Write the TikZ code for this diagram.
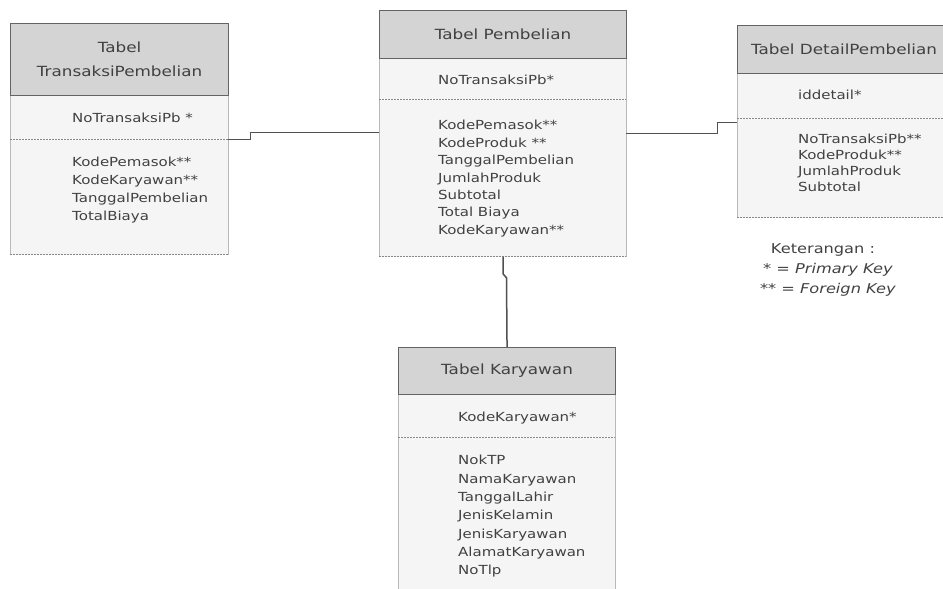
\documentclass[tikz,border=0pt]{standalone}
\usepackage{fontspec}
\setmainfont[FakeStretch=1.2]{DejaVu Sans}
\usetikzlibrary{calc}

\definecolor{hdrfill}{RGB}{212,212,212}
\definecolor{bodyfill}{RGB}{245,245,245}
\definecolor{hdrline}{RGB}{100,100,100}
\definecolor{sideline}{RGB}{185,185,185}
\definecolor{dashline}{RGB}{135,135,135}
\definecolor{txtc}{RGB}{65,65,65}
\definecolor{connc}{RGB}{80,80,80}

\begin{document}
\begin{tikzpicture}[x=1pt,y=-1pt,
  hdr/.style={draw=hdrline, fill=hdrfill, line width=1.1pt, inner sep=0pt,
              anchor=north west, align=center, text=txtc,
              font=\fontsize{14}{24}\selectfont},
  sect/.style={fill=bodyfill, inner sep=0pt, anchor=north west},
  side/.style={draw=sideline, line width=1pt},
  sepline/.style={draw=dashline, line width=1.1pt, dash pattern=on 2pt off 1pt},
  fieldtxt/.style={inner sep=0pt, anchor=base west, text=txtc,
                   font=\fontsize{12.5}{14}\selectfont},
  legtxt/.style={inner sep=0pt, text=txtc, font=\fontsize{13.5}{16}\selectfont},
  conn/.style={draw=connc, line width=1.5pt}]

\useasboundingbox (0,0) rectangle (943,589);
\clip (0,0) rectangle (943,589);

% ---------- Tabel TransaksiPembelian ----------
\node[sect, minimum width=218pt, minimum height=44pt] (k1) at (10,95) {};
\node[sect, minimum width=218pt, minimum height=115pt] (a1) at (k1.south west) {};
\draw[side] (k1.north west) -- (a1.south west);
\draw[side] (k1.north east) -- (a1.south east);
\draw[sepline] (k1.south west) -- (k1.south east);
\draw[sepline] (a1.south west) -- (a1.south east);
\node[hdr, minimum width=218pt, minimum height=72pt] (h1) at (10,23) {Tabel\\TransaksiPembelian};
\node[fieldtxt] (k1t) at ($(k1.north west)+(62,27.5)$) {NoTransaksiPb *};
\foreach \f [count=\i] in {KodePemasok**, KodeKaryawan**, TanggalPembelian, TotalBiaya}
  \node[fieldtxt] (a1t\i) at ($(a1.north west)+(62,27.5+17.7*\i-17.7)$) {\f};

% ---------- Tabel Pembelian ----------
\node[sect, minimum width=247pt, minimum height=41pt] (k2) at (379,58) {};
\node[sect, minimum width=247pt, minimum height=157pt] (a2) at (k2.south west) {};
\draw[side] (k2.north west) -- (a2.south west);
\draw[side] (k2.north east) -- (a2.south east);
\draw[sepline] (k2.south west) -- (k2.south east);
\draw[sepline] (a2.south west) -- (a2.south east);
\node[hdr, minimum width=247pt, minimum height=48pt] (h2) at (379,10) {Tabel Pembelian};
\node[fieldtxt] (k2t) at ($(k2.north west)+(59,26.5)$) {NoTransaksiPb*};
\foreach \f [count=\i] in {KodePemasok**, KodeProduk **, TanggalPembelian, JumlahProduk, Subtotal, Total Biaya, KodeKaryawan**}
  \node[fieldtxt] (a2t\i) at ($(a2.north west)+(59,30.5+17.4*\i-17.4)$) {\f};

% ---------- Tabel DetailPembelian ----------
\node[sect, minimum width=213pt, minimum height=45pt] (k3) at (737,73) {};
\node[sect, minimum width=213pt, minimum height=99pt] (a3) at (k3.south west) {};
\draw[side] (k3.north west) -- (a3.south west);
\draw[sepline] (k3.south west) -- (k3.south east);
\draw[sepline] (a3.south west) -- (a3.south east);
\node[hdr, minimum width=213pt, minimum height=48pt] (h3) at (737,25) {Tabel DetailPembelian};
\node[fieldtxt] (k3t) at ($(k3.north west)+(61,26.5)$) {iddetail*};
\foreach \f [count=\i] in {NoTransaksiPb**, KodeProduk**, JumlahProduk, Subtotal}
  \node[fieldtxt] (a3t\i) at ($(a3.north west)+(61,25.5+16*\i-16)$) {\f};

% ---------- Tabel Karyawan ----------
\node[sect, minimum width=217pt, minimum height=43pt] (k4) at (398,394) {};
\node[sect, minimum width=217pt, minimum height=158pt] (a4) at (k4.south west) {};
\draw[side] (k4.north west) -- (a4.south west);
\draw[side] (k4.north east) -- (a4.south east);
\draw[sepline] (k4.south west) -- (k4.south east);
\node[hdr, minimum width=217pt, minimum height=47pt] (h4) at (398,347) {Tabel Karyawan};
\node[fieldtxt] (k4t) at ($(k4.north west)+(60,27.5)$) {KodeKaryawan*};
\foreach \f [count=\i] in {NokTP, NamaKaryawan, TanggalLahir, JenisKelamin, JenisKaryawan, AlamatKaryawan, NoTlp}
  \node[fieldtxt] (a4t\i) at ($(a4.north west)+(60,27.5+18.3*\i-18.3)$) {\f};

% ---------- relations ----------
\draw[conn] (k1.south east) -- ++(22,0) -- ++(0,-7) -- ($(a2.north west)+(0,33)$);
\draw[conn] ($(a2.north east)+(0,34)$) -- ++(91,0) -- ++(0,-11) -- ($(a3.north west)+(0,4)$);
\draw[conn] ($(a2.south west)+(124,0)$) -- ++(0,17) -- ++(3.5,4) -- (h4.north);

% ---------- legend ----------
\node[legtxt] (leg1) at (823,250) {Keterangan :};
\node[legtxt] (leg2) at (828,270) {* = \textit{Primary Key}};
\node[legtxt] (leg3) at (828,290) {** = \textit{Foreign Key}};

\end{tikzpicture}
\end{document}
